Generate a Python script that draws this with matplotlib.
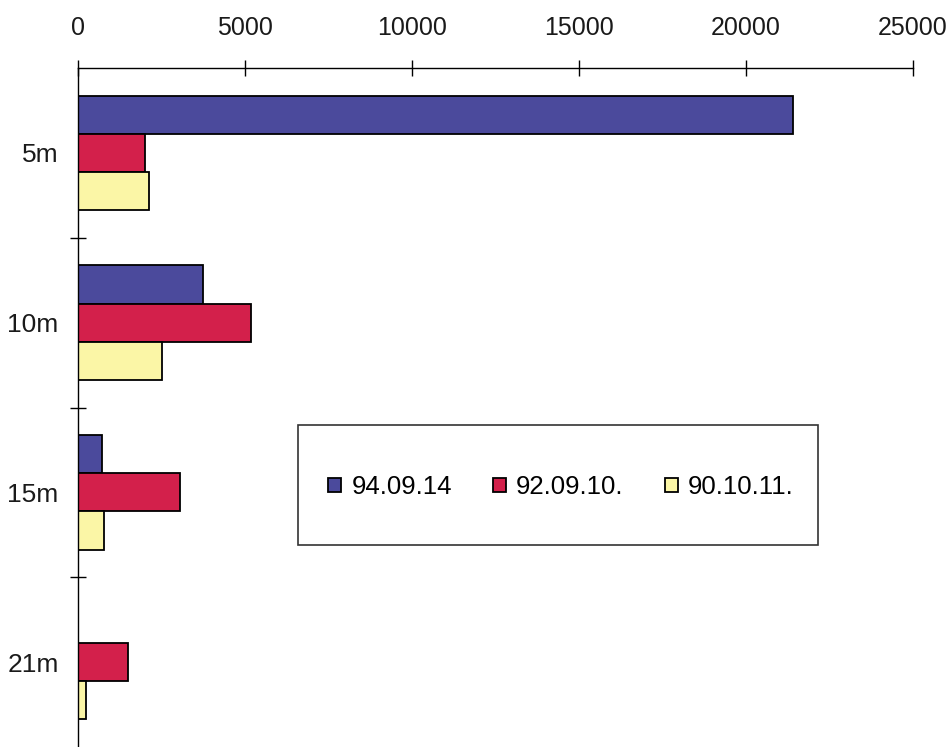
import numpy as np
import matplotlib.pyplot as plt
from matplotlib.patches import Rectangle

# Data
depths = ['5m', '10m', '15m', '21m']
series_labels = ['94.09.14', '92.09.10.', '90.10.11.']
s_940914 = [21400, 3750, 720, 0]
s_920910 = [2000, 5180, 3050, 1500]
s_901011 = [2120, 2520, 780, 240]
colors = ['#4b4a9c', '#d3204b', '#fbf6a6']
x_ticks = [0, 5000, 10000, 15000, 20000, 25000]

plt.rcParams['font.family'] = ['Liberation Sans', 'DejaVu Sans']

fig = plt.figure(figsize=(9.53, 7.47), dpi=100)
ax = fig.add_axes([78 / 953, 0.0, 835 / 953, 679 / 747])

y = np.arange(len(depths))
h = 0.225
for i, (vals, lab, c) in enumerate(zip([s_940914, s_920910, s_901011], series_labels, colors)):
    ax.barh(y + (i - 1) * h, vals, height=h, color=c, edgecolor='black', linewidth=1.3, label=lab)

ax.set_xlim(0, 25000)
ax.set_ylim(len(depths) - 0.5, -0.5)
ax.xaxis.tick_top()
ax.set_xticks(x_ticks)
ax.set_xticklabels([str(v) for v in x_ticks])
ax.tick_params(axis='x', direction='inout', length=12, width=1, pad=14, labelsize=18,
               labelcolor='#1a1a1a')
ax.set_yticks(y)
ax.set_yticklabels(depths)
ax.set_yticks(np.arange(0.5, len(depths) - 0.5, 1), minor=True)
ax.tick_params(axis='y', which='major', length=0, pad=14, labelsize=19, labelcolor='#1a1a1a')
ax.tick_params(axis='y', which='minor', direction='inout', length=11, width=1)

for s in ['right', 'bottom']:
    ax.spines[s].set_visible(False)
ax.spines['top'].set_linewidth(1)
ax.spines['left'].set_linewidth(1)

# legend with a hand-drawn frame like the original
fig.patches.append(Rectangle((298 / 953, 1 - 545 / 747), 520 / 953, 120 / 747,
                             transform=fig.transFigure, facecolor='white',
                             edgecolor='#333333', linewidth=1.2, zorder=5))
leg = fig.legend(loc='center', bbox_to_anchor=(561 / 953, 1 - 487 / 747), ncol=3,
                 frameon=False, fontsize=18.5, handlelength=0.5, handleheight=0.5,
                 handletextpad=0.4, columnspacing=1.6)
leg.set_zorder(6)

fig.savefig('out.png', dpi=100)
